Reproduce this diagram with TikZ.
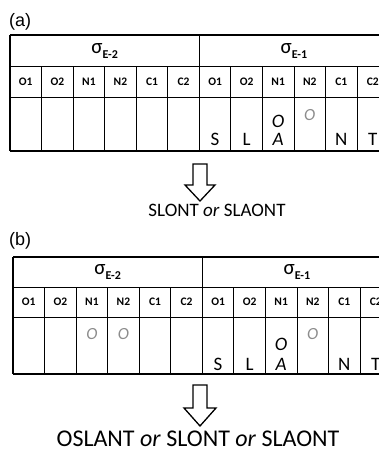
\documentclass[tikz,border=0pt]{standalone}
\usepackage{fontspec}
\setmainfont{Carlito}
\newfontfamily\arialfont{Liberation Sans}
\begin{document}
\begin{tikzpicture}[x=1pt,y=-1pt,
  outer/.style={line width=1.3pt},
  inner/.style={line width=0.9pt},
  collab/.style={font=\fontsize{11.5}{11.5}\selectfont\bfseries, anchor=center},
  sig/.style={anchor=center, font=\fontsize{21}{21}\selectfont},
  letter/.style={anchor=base, font=\fontsize{19}{19}\selectfont},
  greyo/.style={anchor=base, font=\fontsize{17}{17}\selectfont\itshape, text=black!45},
  blacko/.style={anchor=base, font=\fontsize{19}{19}\selectfont\itshape},
  panel/.style={anchor=base west, font=\arialfont\fontsize{18}{18}\selectfont, inner sep=0pt},
  result/.style={anchor=base, inner sep=0pt},
  blockarrow/.style={line width=1.3pt, fill=white, line join=miter}
]
\useasboundingbox (0,0) rectangle (379,451);
\clip (0,0) rectangle (379,451);
\fill[white] (0,0) rectangle (379,451);

\def\w{31.55}

% ---------- panel (a) ----------
\node[panel] (la) at (9,26) {(a)};
\begin{scope}[shift={(10,35)}]
  \def\H{116}
  \draw[inner] (0,31) -- (12*\w,31);
  \draw[inner] (0,62) -- (12*\w,62);
  \foreach \i in {1,...,5,7,8,9,10,11} {\draw[inner] (\i*\w,31) -- (\i*\w,\H);}
  \draw[outer] (0,0) -- (12*\w,0);
  \draw[outer] (0,\H) -- (12*\w,\H);
  \draw[outer] (0,0) -- (0,\H);
  \draw[outer] (6*\w,0) -- (6*\w,\H);
  \node[sig] (sa2) at (3*\w,16) {σ\raisebox{-0.45ex}{\fontsize{12}{12}\selectfont\bfseries E-2}};
  \node[sig] (sa1) at (9*\w,16) {σ\raisebox{-0.45ex}{\fontsize{12}{12}\selectfont\bfseries E-1}};
  \foreach \lab [count=\k from 0] in {O1,O2,N1,N2,C1,C2,O1,O2,N1,N2,C1,C2} {
    \node[collab] (ca\k) at ({(\k+0.5)*\w},46.5) {\lab};
  }
  \node[letter] (aS) at (6.5*\w,110) {S};
  \node[letter] (aL) at (7.5*\w,110) {L};
  \node[letter] (aA) at (8.5*\w,110) {\itshape A};
  \node[blacko] (aO) at (8.5*\w,92) {O};
  \node[greyo] (aG) at (9.5*\w,85) {O};
  \node[letter] (aN) at (10.5*\w,110) {N};
  \node[letter] (aT) at (11.5*\w,110) {T};
\end{scope}

\draw[blockarrow] (193,164) -- (207,164) -- (207,185) -- (215,185) -- (200,201) -- (185,185) -- (193,185) -- cycle;
\node[result, font=\fontsize{19}{19}\selectfont] (ra) at (217,216) {SLONT \textit{or} SLAONT};

% ---------- panel (b) ----------
\node[panel] (lb) at (9,245) {(b)};
\begin{scope}[shift={(13,257)}]
  \def\H{117}
  \draw[inner] (0,30) -- (12*\w,30);
  \draw[inner] (0,60) -- (12*\w,60);
  \foreach \i in {1,...,5,7,8,9,10,11} {\draw[inner] (\i*\w,30) -- (\i*\w,\H);}
  \draw[outer] (0,0) -- (12*\w,0);
  \draw[outer] (0,\H) -- (12*\w,\H);
  \draw[outer] (0,0) -- (0,\H);
  \draw[outer] (6*\w,0) -- (6*\w,\H);
  \node[sig] (sb2) at (3*\w,15) {σ\raisebox{-0.45ex}{\fontsize{12}{12}\selectfont\bfseries E-2}};
  \node[sig] (sb1) at (9*\w,15) {σ\raisebox{-0.45ex}{\fontsize{12}{12}\selectfont\bfseries E-1}};
  \foreach \lab [count=\k from 0] in {O1,O2,N1,N2,C1,C2,O1,O2,N1,N2,C1,C2} {
    \node[collab] (cb\k) at ({(\k+0.5)*\w},45) {\lab};
  }
  \node[greyo] (bG1) at (2.5*\w,82) {O};
  \node[greyo] (bG2) at (3.5*\w,82) {O};
  \node[letter] (bS) at (6.5*\w,113) {S};
  \node[letter] (bL) at (7.5*\w,113) {L};
  \node[letter] (bA) at (8.5*\w,113) {\itshape A};
  \node[blacko] (bO) at (8.5*\w,93) {O};
  \node[greyo] (bG) at (9.5*\w,82) {O};
  \node[letter] (bN) at (10.5*\w,113) {N};
  \node[letter] (bT) at (11.5*\w,113) {T};
\end{scope}

\draw[blockarrow] (193,385) -- (207,385) -- (207,408) -- (216,408) -- (200,426) -- (184,408) -- (193,408) -- cycle;
\node[result, font=\fontsize{24}{24}\selectfont] (rb) at (198,446) {OSLANT \textit{or} SLONT \textit{or} SLAONT};
\end{tikzpicture}
\end{document}
